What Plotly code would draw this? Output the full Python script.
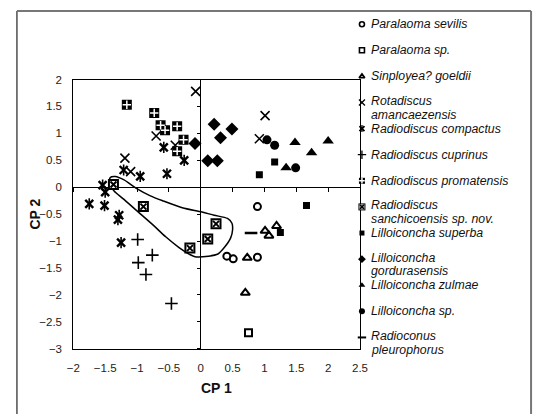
import plotly.graph_objects as go

W, H = 541, 414
OFF = 8  # default page body margin in the browser
FW, FH = W - OFF, H - OFF

# ---------------- data ----------------
sevilis_x = [0.89, 0.41, 0.51, 0.89]
sevilis_y = [-0.36, -1.28, -1.33, -1.30]
paralaoma_sp_x = [0.75]
paralaoma_sp_y = [-2.70]
sinployea_x = [1.01, 1.19, 1.07, 0.73, 0.70]
sinployea_y = [-0.81, -0.72, -0.90, -1.31, -1.96]
rotadiscus_x = [-0.08, -0.70, -1.19, -1.10, -0.40, 1.01, 0.92]
rotadiscus_y = [1.78, 0.95, 0.54, 0.29, 0.78, 1.33, 0.90]
compactus_x = [-0.58, -1.21, -0.95, -0.53, -0.26, -1.54, -1.50, -1.75, -1.51, -1.28, -1.30, -1.25]
compactus_y = [0.74, 0.32, 0.20, 0.25, 0.50, 0.04, -0.09, -0.31, -0.34, -0.52, -0.60, -1.03]
cuprinus_x = [-0.99, -0.98, -0.76, -0.86, -0.46]
cuprinus_y = [-0.97, -1.40, -1.26, -1.62, -2.16]
promatensis_x = [-1.16, -0.73, -0.63, -0.56, -0.37, -0.27, -0.37]
promatensis_y = [1.53, 1.38, 1.15, 1.06, 1.13, 0.88, 0.67]
sanchicoensis_x = [-1.37, -0.90, 0.24, 0.11, -0.17]
sanchicoensis_y = [0.05, -0.36, -0.68, -0.96, -1.13]
superba_x = [1.16, 0.92, 1.66, 1.25]
superba_y = [0.47, 0.23, -0.34, -0.84]
gordurasensis_x = [0.21, 0.49, 0.31, -0.09, 0.11, 0.26]
gordurasensis_y = [1.17, 1.08, 0.92, 0.81, 0.49, 0.49]
zulmae_x = [1.48, 1.74, 2.00, 1.34]
zulmae_y = [0.83, 0.64, 0.86, 0.36]
lillo_sp_x = [1.04, 1.16, 1.49]
lillo_sp_y = [0.88, 0.78, 0.36]
radioconus_x = [0.79]
radioconus_y = [-0.85]

contour_x = [-1.42, -1.34, -1.21, -1.01, -0.79, -0.60, -0.29, 0.02, 0.21, 0.42, 0.49, 0.50, 0.47,
             0.37, 0.27, 0.12, -0.09, -0.17, -0.34, -0.55, -0.75, -1.01, -1.21, -1.36, -1.42, -1.42]
contour_y = [0.18, 0.20, 0.14, -0.02, -0.16, -0.25, -0.38, -0.46, -0.52, -0.58, -0.67, -0.79, -0.94,
             -1.12, -1.24, -1.28, -1.29, -1.25, -1.12, -0.92, -0.70, -0.43, -0.22, -0.07, 0.05, 0.18]

x_ticks = [-2, -1.5, -1, -0.5, 0, 0.5, 1, 1.5, 2, 2.5]
y_ticks = [2, 1.5, 1, 0.5, 0, -0.5, -1, -1.5, -2, -2.5, -3]
x_range = [-2, 2.5]
y_range = [-3, 2]

legend_names = [
    "Paralaoma sevilis", "Paralaoma sp.", "Sinployea? goeldii",
    "Rotadiscus<br>amancaezensis", "Radiodiscus compactus", "Radiodiscus cuprinus",
    "Radiodiscus promatensis", "Radiodiscus<br>sanchicoensis sp. nov.", "Lilloiconcha superba",
    "Lilloiconcha<br>gordurasensis", "Lilloiconcha zulmae", "Lilloiconcha sp.",
    "Radioconus<br>pleurophorus",
]


# ---------------- geometry (page pixels -> paper) ----------------
def px(x):
    return (x - OFF) / FW


def py(y):
    return 1 - (y - OFF) / FH


PL, PR, PT, PB = 68, 363, 75.5, 353
xdom = [px(PL), px(PR)]
ydom = [py(PB), py(PT)]
zero_y_pos = ydom[0] + (0 - y_range[0]) / (y_range[1] - y_range[0]) * (ydom[1] - ydom[0])
zero_x_pos = xdom[0] + (0 - x_range[0]) / (x_range[1] - x_range[0]) * (xdom[1] - xdom[0])

BLACK = "black"

styles = [
    [dict(symbol="circle-open", size=7, line=dict(width=2, color=BLACK), color=BLACK)],
    [dict(symbol="square-open", size=7, line=dict(width=2, color=BLACK), color=BLACK)],
    [dict(symbol="triangle-up-open", size=8, line=dict(width=2, color=BLACK), color=BLACK)],
    [dict(symbol="x-thin-open", size=9, line=dict(width=1.6, color=BLACK), color=BLACK)],
    [dict(symbol="x-thin-open", size=8, line=dict(width=2.4, color=BLACK), color=BLACK),
     dict(symbol="line-ns-open", size=8, line=dict(width=1.6, color=BLACK), color=BLACK)],
    [dict(symbol="cross-thin-open", size=9, line=dict(width=1.6, color=BLACK), color=BLACK)],
    [dict(symbol="square", size=10, color=BLACK, line=dict(width=0)),
     dict(symbol="cross-thin-open", size=6, line=dict(width=1.5, color="white"), color="white")],
    [dict(symbol="square", size=11, color=BLACK, line=dict(width=0)),
     dict(symbol="square", size=7, color="white", line=dict(width=0)),
     dict(symbol="x-thin-open", size=6, line=dict(width=2, color=BLACK), color=BLACK)],
    [dict(symbol="square", size=7, color=BLACK, line=dict(width=0))],
    [dict(symbol="diamond", size=10, color=BLACK, line=dict(width=0))],
    [dict(symbol="triangle-up", size=10, color=BLACK, line=dict(width=0))],
    [dict(symbol="circle", size=9, color=BLACK, line=dict(width=0))],
    [dict(symbol="line-ew-open", size=9, line=dict(width=2.5, color=BLACK), color=BLACK)],
]

series = [
    (sevilis_x, sevilis_y), (paralaoma_sp_x, paralaoma_sp_y), (sinployea_x, sinployea_y),
    (rotadiscus_x, rotadiscus_y), (compactus_x, compactus_y), (cuprinus_x, cuprinus_y),
    (promatensis_x, promatensis_y), (sanchicoensis_x, sanchicoensis_y), (superba_x, superba_y),
    (gordurasensis_x, gordurasensis_y), (zulmae_x, zulmae_y), (lillo_sp_x, lillo_sp_y),
    (radioconus_x, radioconus_y),
]

fig = go.Figure()

fig.add_trace(go.Scatter(x=contour_x, y=contour_y, mode="lines",
                         line=dict(color=BLACK, width=1.5, shape="spline", smoothing=0.8),
                         showlegend=False, hoverinfo="skip"))

for (sx, sy), layers, name in zip(series, styles, legend_names):
    for m in layers:
        fig.add_trace(go.Scatter(x=sx, y=sy, mode="markers", marker=m,
                                 name=name.replace("<br>", " "), showlegend=False))

fig.add_trace(go.Scatter(x=[], y=[], xaxis="x2", yaxis="y", showlegend=False))
fig.add_trace(go.Scatter(x=[], y=[], xaxis="x", yaxis="y2", showlegend=False))

# custom legend in page-pixel space
LEG_X, LEG_Y0, LEG_DY, LINE_DY = 365, 18.5, 26.9, 14
legfont = dict(family="Liberation Sans, Arial", size=12.3, color="#111")
for i, (name, layers) in enumerate(zip(legend_names, styles)):
    ly = LEG_Y0 + i * LEG_DY
    for m in layers:
        mm = dict(m)
        mm["size"] = max(4, round(m["size"] * 0.65))
        if "line" in mm and mm["line"].get("width", 0) > 1.5:
            mm["line"] = dict(mm["line"], width=mm["line"]["width"] * 0.8)
        fig.add_trace(go.Scatter(x=[LEG_X], y=[ly], mode="markers", marker=mm,
                                 xaxis="x3", yaxis="y3", showlegend=False, hoverinfo="skip"))
    parts = name.split("<br>")
    first = ly - 1.5 if len(parts) > 1 else ly
    for j, part in enumerate(parts):
        fig.add_annotation(x=LEG_X + 7, y=first + j * LINE_DY, xref="x3", yref="y3",
                           text="<i>" + part + "</i>", showarrow=False,
                           xanchor="left", yanchor="middle", align="left", font=legfont)

fig.add_annotation(x=(PL + PR) / 2, y=393, xref="x3", yref="y3", text="<b>CP 1</b>", showarrow=False,
                   font=dict(family="Liberation Sans, Arial", size=14, color="#111"))
fig.add_annotation(x=29, y=(PT + PB) / 2, xref="x3", yref="y3", text="<b>CP 2</b>", showarrow=False,
                   textangle=-90, font=dict(family="Liberation Sans, Arial", size=14, color="#111"))

# outer frame
fig.add_shape(type="line", xref="paper", yref="paper", x0=px(10), x1=px(10), y0=-0.05, y1=py(5),
              line=dict(color="#222", width=1.2))
fig.add_shape(type="line", xref="paper", yref="paper", x0=px(10), x1=px(539), y0=py(5), y1=py(5),
              line=dict(color="#777", width=2))
fig.add_shape(type="line", xref="paper", yref="paper", x0=px(539), x1=px(539), y0=-0.05, y1=py(5),
              line=dict(color="#777", width=2))

tickfont = dict(family="Liberation Sans, Arial", size=11.5, color="#222")
fig.update_layout(
    width=FW, height=FH, margin=dict(l=0, r=0, t=0, b=0),
    paper_bgcolor="white", plot_bgcolor="rgba(0,0,0,0)", showlegend=False,
    xaxis=dict(domain=xdom, range=x_range, tickvals=x_ticks, ticks="", showgrid=False,
               zeroline=True, zerolinecolor=BLACK, zerolinewidth=1,
               showline=True, mirror=True, linecolor=BLACK, linewidth=1,
               tickfont=tickfont, ticklabelstandoff=8),
    yaxis=dict(domain=ydom, range=y_range, tickvals=y_ticks, ticks="", showgrid=False,
               zeroline=True, zerolinecolor=BLACK, zerolinewidth=1,
               showline=True, mirror=True, linecolor=BLACK, linewidth=1,
               tickfont=tickfont, ticklabelstandoff=8),
    xaxis2=dict(overlaying="x", range=x_range, anchor="free", position=zero_y_pos, side="bottom",
                tickvals=x_ticks, ticks="outside", ticklen=4, tickcolor=BLACK,
                showticklabels=False, showgrid=False, zeroline=False, showline=False),
    yaxis2=dict(overlaying="y", range=y_range, anchor="free", position=zero_x_pos, side="left",
                tickvals=y_ticks, ticks="outside", ticklen=4, tickcolor=BLACK,
                showticklabels=False, showgrid=False, zeroline=False, showline=False),
    xaxis3=dict(domain=[0, 1], range=[OFF, W], visible=False, anchor="y3", fixedrange=True),
    yaxis3=dict(domain=[0, 1], range=[H, OFF], visible=False, anchor="x3", fixedrange=True),
)

fig.write_html("out.html")
